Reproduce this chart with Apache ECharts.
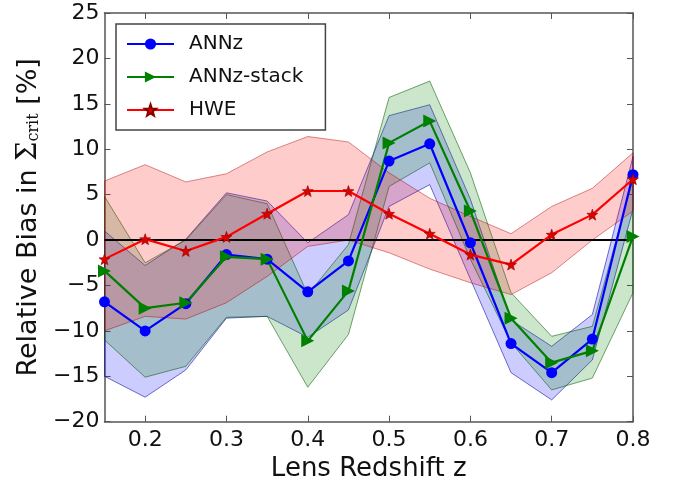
<!DOCTYPE html>
<html>
<head>
<meta charset="utf-8">
<script src="https://cdn.jsdelivr.net/npm/echarts@6/dist/echarts.min.js"></script>
<style>html,body{margin:0;padding:0;background:#fff}#c{width:681px;height:489px}</style>
</head>
<body>
<div id="c"></div>
<script>
const zVals = [0.15,0.2,0.25,0.3,0.35,0.4,0.45,0.5,0.55,0.6,0.65,0.7,0.75,0.8];
const annz      = [-6.8,-10.0,-7.0,-1.6,-2.1,-5.7,-2.3,8.7,10.6,-0.3,-11.4,-14.6,-10.9,7.2];
const annzUp    = [1.0,-2.8,0.1,5.2,4.3,-0.3,2.8,13.7,14.9,4.5,-8.8,-11.7,-8.2,9.2];
const annzLo    = [-15.0,-17.3,-14.3,-8.6,-8.4,-10.7,-7.7,3.7,6.1,-4.3,-14.6,-17.6,-13.2,3.4];
const stack     = [-3.4,-7.5,-6.9,-1.85,-2.1,-11.1,-5.6,10.7,13.1,3.2,-8.6,-13.5,-12.2,0.4];
const stackUp   = [4.8,-2.5,0.0,5.0,4.0,-6.0,-0.5,15.7,17.5,7.4,-5.8,-10.6,-9.5,6.7];
const stackLo   = [-11.0,-15.1,-13.9,-8.5,-8.4,-16.2,-10.4,5.9,8.5,-2.1,-11.3,-16.5,-15.2,-5.8];
const hwe       = [-2.1,0.1,-1.2,0.35,2.9,5.4,5.4,2.9,0.7,-1.6,-2.7,0.6,2.8,6.7];
const hweUp     = [6.5,8.3,6.4,7.3,9.7,11.4,10.8,7.4,4.6,2.6,0.7,3.7,5.7,9.6];
const hweLo     = [-10.0,-8.4,-8.7,-6.9,-4.0,-0.7,0.0,-1.4,-3.2,-4.7,-6.0,-3.6,0.0,3.2];
const xTicks = [0.2,0.3,0.4,0.5,0.6,0.7,0.8];
const yTicks = [-20,-15,-10,-5,0,5,10,15,20,25];

const starPath = 'path://M0,-10L2.35,-3.24L9.51,-3.09L3.8,1.24L5.88,8.09L0,4.4L-5.88,8.09L-3.8,1.24L-9.51,-3.09L-2.35,-3.24Z';

function pairs(ys){ return zVals.map((x,i)=>[x, ys[i]]); }

function band(up, lo, fill, edge){
  return {
    type: 'custom',
    silent: true,
    z: 1,
    data: [[zVals[0], lo[0]]],
    renderItem: function(params, api){
      const pts = [];
      for (let i=0;i<zVals.length;i++) pts.push(api.coord([zVals[i], up[i]]));
      for (let i=zVals.length-1;i>=0;i--) pts.push(api.coord([zVals[i], lo[i]]));
      return {type:'polygon', shape:{points:pts}, style:{fill:fill, stroke:edge, lineWidth:1}};
    }
  };
}

const font = 'DejaVu Sans';
const axLine = {onZero:false, lineStyle:{color:'#555', width:1.5}};
const tick = (vals)=>({show:true, inside:true, length:6, lineStyle:{color:'#555', width:1}, customValues:vals});
const chart = echarts.init(document.getElementById('c'));
chart.setOption({
  animation: false,
  grid: {left:104.5, right:48, top:13, bottom:67.3},
  xAxis: [{
    type:'value', min:0.15, max:0.8, position:'bottom',
    name:'Lens Redshift z', nameLocation:'middle', nameGap:30,
    nameTextStyle:{fontFamily:font, fontSize:26, color:'#111'},
    axisLine:axLine, axisTick:tick(xTicks),
    axisLabel:{fontFamily:font, fontSize:22, color:'#111', margin:8, customValues:xTicks, formatter:v=>v.toFixed(1)},
    splitLine:{show:false}
  },{
    type:'value', min:0.15, max:0.8, position:'top',
    axisLine:axLine, axisTick:tick(xTicks),
    axisLabel:{show:false}, splitLine:{show:false}
  }],
  yAxis: [{
    type:'value', min:-20, max:25, interval:5, position:'left',
    name:'{a|Relative Bias in }{s|Σ}{b|crit}{a| [%]}', nameLocation:'middle', nameGap:58, nameRotate:90,
    nameTextStyle:{rich:{
      a:{fontFamily:font, fontSize:27, color:'#111'},
      s:{fontFamily:'DejaVu Serif', fontSize:27, color:'#111'},
      b:{fontFamily:'DejaVu Serif', fontSize:16, color:'#111', padding:[10,0,0,0]}
    }},
    axisLine:axLine, axisTick:tick(yTicks),
    axisLabel:{fontFamily:font, fontSize:22, color:'#111', margin:5, customValues:yTicks, formatter:v=>String(v).replace('-','\u2212')},
    splitLine:{show:false}
  },{
    type:'value', min:-20, max:25, interval:5, position:'right',
    axisLine:axLine, axisTick:tick(yTicks),
    axisLabel:{show:false}, splitLine:{show:false}
  }],
  legend: {
    left:116, top:24, orient:'vertical',
    data:['ANNz','ANNz-stack','HWE'],
    backgroundColor:'#fff', borderColor:'#444', borderWidth:1.5, borderRadius:0,
    padding:[8,22,8,10], itemGap:9, itemWidth:47, itemHeight:14,
    textStyle:{fontFamily:font, fontSize:20, color:'#111', padding:[0,0,0,10], lineHeight:24}
  },
  series: [
    band(annzUp, annzLo, 'rgba(0,0,255,0.2)', 'rgba(0,0,160,0.55)'),
    band(stackUp, stackLo, 'rgba(0,128,0,0.2)', 'rgba(0,90,0,0.55)'),
    band(hweUp, hweLo, 'rgba(255,0,0,0.2)', 'rgba(170,0,0,0.45)'),
    {type:'line', data:[[zVals[0],0],[zVals[zVals.length-1],0]], symbol:'none', silent:true, z:3,
     lineStyle:{color:'#000', width:2}},
    {name:'ANNz', type:'line', data:pairs(annz), z:5, color:'#0000ff',
     symbol:'circle', symbolSize:11, lineStyle:{width:2.2, color:'#0000ff'}, itemStyle:{color:'#0000ff'}},
    {name:'ANNz-stack', type:'line', data:pairs(stack), z:5, color:'#008000',
     symbol:'triangle', symbolRotate:-90, symbolSize:13, lineStyle:{width:2.2, color:'#008000'}, itemStyle:{color:'#008000'}},
    {name:'HWE', type:'line', data:pairs(hwe), z:5, color:'#ff0000',
     symbol:starPath, symbolSize:11, lineStyle:{width:2.2, color:'#ff0000'}, itemStyle:{color:'#e00000', borderColor:'#800', borderWidth:0.6}}
  ]
});
</script>
</body>
</html>
